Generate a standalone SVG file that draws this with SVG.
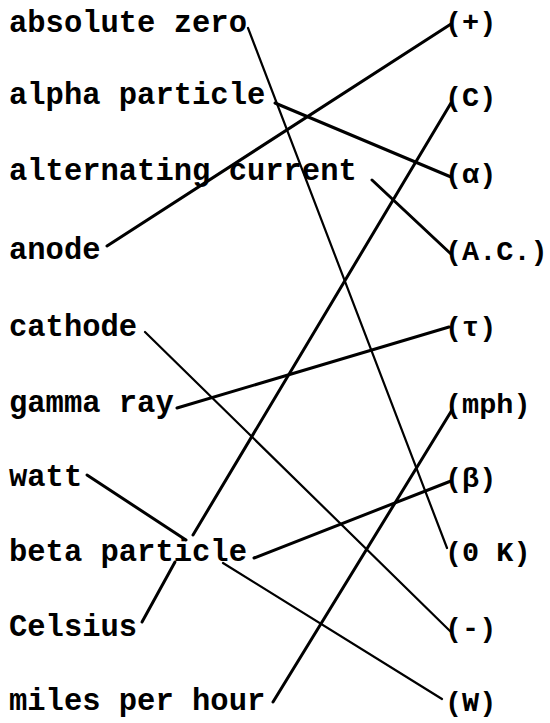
<svg xmlns="http://www.w3.org/2000/svg" width="550" height="723" viewBox="0 0 550 723">
<style>
text{font-family:"Liberation Mono","Courier New",monospace;font-size:30.5px;font-weight:bold;fill:#000}
text.r{font-size:28.5px}
.c line{stroke:#000;stroke-linecap:round}
.w3{stroke-width:3}
.w2{stroke-width:2.2}
</style>
<rect width="550" height="723" fill="#fff"/>
<g id="left-absolute-zero"><text x="9" y="32">absolute zero</text></g>
<g id="left-alpha-particle"><text x="9" y="104">alpha particle</text></g>
<g id="left-alternating-current"><text x="9" y="180">alternating current</text></g>
<g id="left-anode"><text x="9" y="259">anode</text></g>
<g id="left-cathode"><text x="9" y="336">cathode</text></g>
<g id="left-gamma-ray"><text x="9" y="412">gamma ray</text></g>
<g id="left-watt"><text x="9" y="486">watt</text></g>
<g id="left-beta-particle"><text x="9" y="561">beta particle</text></g>
<g id="left-celsius"><text x="9" y="636">Celsius</text></g>
<g id="left-miles-per-hour"><text x="9" y="710">miles per hour</text></g>
<g id="right-plus"><text class="r" x="445" y="31">(+)</text></g>
<g id="right-c"><text class="r" x="445" y="106">(C)</text></g>
<g id="right-alpha"><text class="r" x="445" y="183">(α)</text></g>
<g id="right-ac"><text class="r" x="445" y="260">(A.C.)</text></g>
<g id="right-tau"><text class="r" x="445" y="336">(τ)</text></g>
<g id="right-mph"><text class="r" x="445" y="413">(mph)</text></g>
<g id="right-beta"><text class="r" x="445" y="487">(β)</text></g>
<g id="right-0k"><text class="r" x="445" y="561">(0 K)</text></g>
<g id="right-minus"><text class="r" x="445" y="637">(-)</text></g>
<g id="right-w"><text class="r" x="445" y="711">(W)</text></g>
<g id="connectors" class="c">
<line class="w2" x1="248" y1="28" x2="447" y2="548"/>
<line class="w3" x1="275" y1="103" x2="451" y2="177"/>
<line class="w3" x1="372" y1="180" x2="451" y2="254"/>
<line class="w3" x1="107" y1="246" x2="451" y2="24"/>
<line class="w2" x1="145" y1="332" x2="451" y2="632"/>
<line class="w3" x1="177" y1="408" x2="449" y2="327"/>
<line class="w3" x1="87" y1="475" x2="186" y2="540"/>
<line class="w3" x1="193" y1="535" x2="451" y2="103"/>
<line class="w3" x1="254" y1="558" x2="451" y2="481"/>
<line class="w2" x1="223" y1="563" x2="442" y2="699"/>
<line class="w3" x1="175" y1="562" x2="142" y2="622"/>
<line class="w3" x1="273" y1="702" x2="452" y2="410"/>
</g>
</svg>
